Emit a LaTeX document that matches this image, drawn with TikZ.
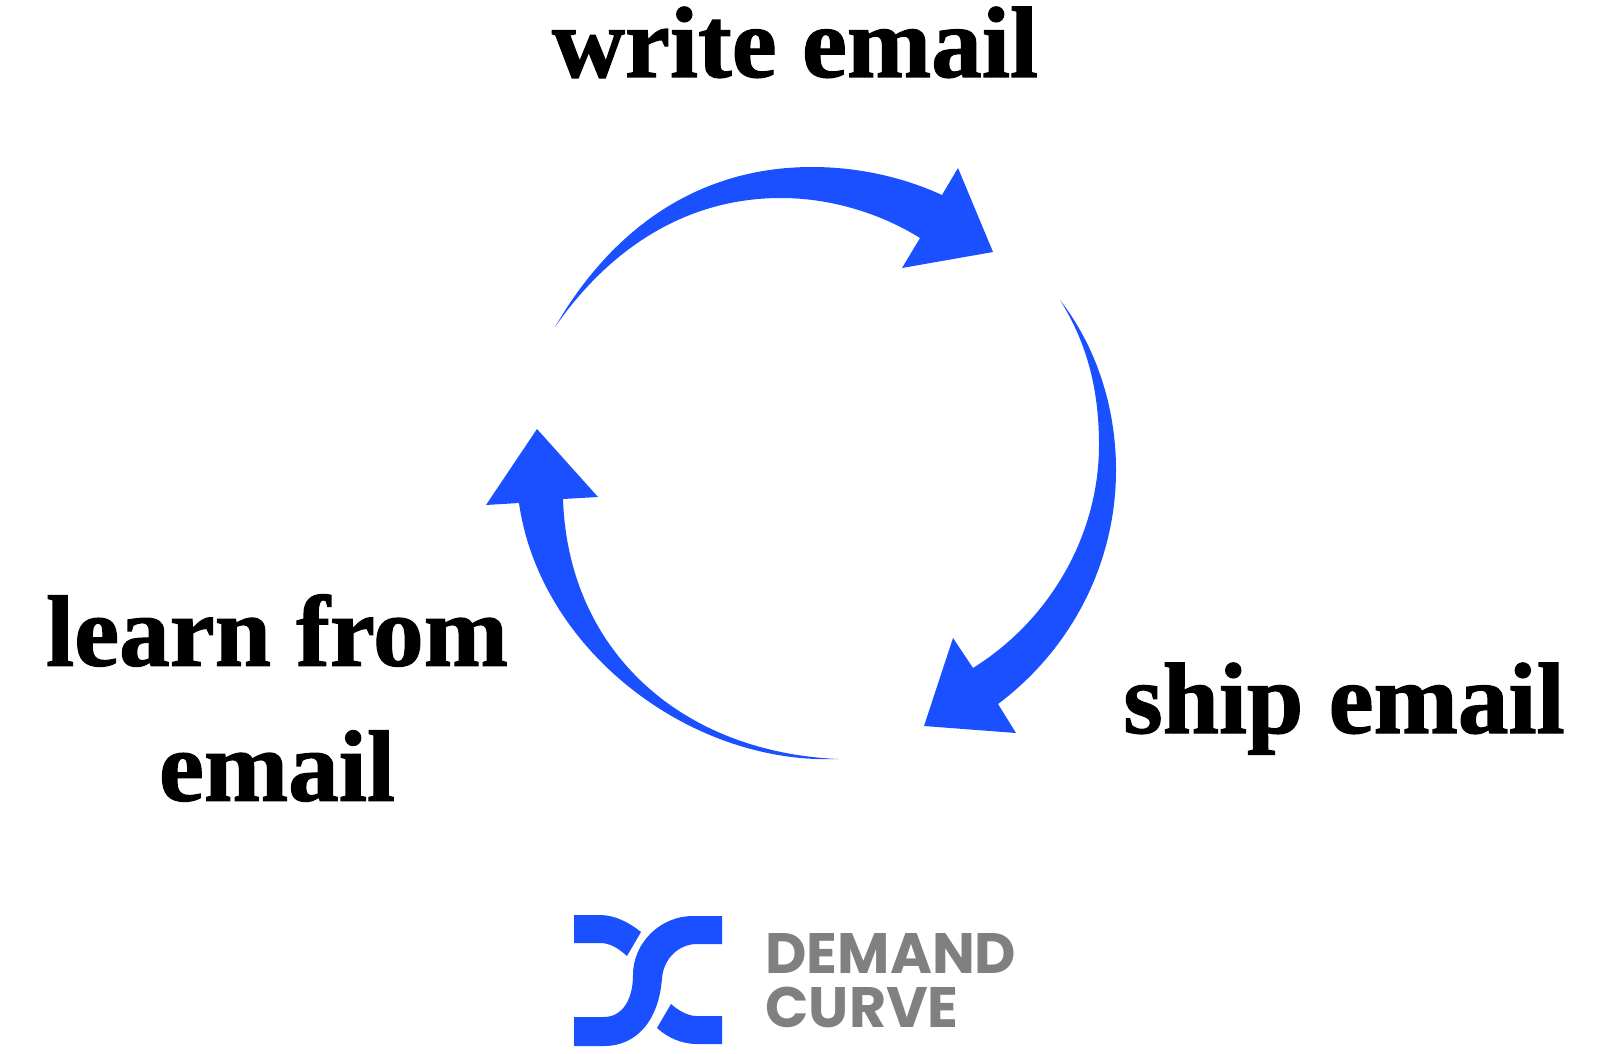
\documentclass[tikz,border=0pt]{standalone}
\usepackage{fontspec}
\newfontfamily\stepfont[FakeBold=1.2]{Liberation Serif Bold}
\newfontfamily\logofont{Poppins}
\definecolor{curveblue}{HTML}{1A50FF}
\definecolor{logogray}{HTML}{808080}
\tikzstyle{steptext} = [font=\stepfont\fontsize{50.6}{67.5}\selectfont, text=black, inner sep=0pt, align=center]
\tikzstyle{logotext} = [font=\logofont\fontsize{28.5}{27}\selectfont\bfseries, text=logogray, inner sep=0pt, align=left]
\tikzstyle{arrowfill} = [fill=curveblue, draw=none]
\begin{document}
\begin{tikzpicture}[x=0.5pt, y=-0.5pt]
\useasboundingbox (0,0) rectangle (1611,1054);
\node (write) [steptext, anchor=base] at (795,77) {write email};
\node (ship) [steptext, anchor=base] at (1344,733) {ship email};
\node (learn) [steptext, anchor=center] at (277,698) {learn from\\email};
\node (demand) [logotext, anchor=base west] at (765,973) {DEMAND};
\node (curve) [logotext, anchor=base west] at (765,1027) {CURVE};
\fill [arrowfill] (555,327) .. controls (610,232) and (695,167) .. (812,167) .. controls (860,167) and (905,178) .. (942,195) -- (958,168) -- (993,252) -- (902,268) -- (920,238) .. controls (880,213) and (830,198) .. (781,198) .. controls (680,198) and (605,255) .. (555,327) -- cycle;
\fill [arrowfill] (1060,300) .. controls (1095,345) and (1116,405) .. (1116,470) .. controls (1116,565) and (1070,650) .. (998,704) -- (1016,733) -- (924,726) -- (953,638) -- (973,668) .. controls (1050,620) and (1099,535) .. (1099,445) .. controls (1099,385) and (1085,340) .. (1060,300) -- cycle;
\fill [arrowfill] (838,759) .. controls (690,765) and (540,650) .. (519,503) -- (486,505) -- (537,429) -- (598,497) -- (563,499) .. controls (568,650) and (680,752) .. (838,759) -- cycle;
\fill [arrowfill] (574,915) -- (600,915) .. controls (615,915) and (630,923) .. (641,932) -- (627,956) .. controls (618,948) and (610,943) .. (600,943) -- (574,943) -- cycle;
\fill [arrowfill] (722,916) -- (693,916) .. controls (660,916) and (633,943) .. (633,975) .. controls (633,1000) and (622,1017) .. (604,1017) -- (574,1017) -- (574,1046) -- (604,1046) .. controls (637,1046) and (659,1020) .. (662,978) .. controls (664,957) and (680,944) .. (697,944) -- (722,944) -- cycle;
\fill [arrowfill] (722,1016) -- (697,1016) .. controls (688,1016) and (679,1011) .. (671,1004) -- (657,1028) .. controls (668,1038) and (682,1044) .. (697,1044) -- (722,1044) -- cycle;
\end{tikzpicture}
\end{document}
